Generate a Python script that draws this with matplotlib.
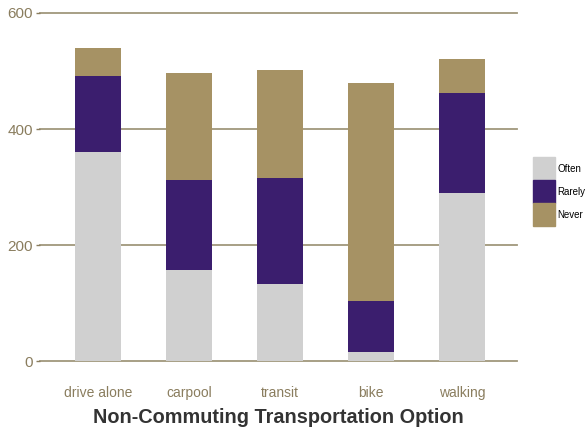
import matplotlib.pyplot as plt
from matplotlib.patches import Patch

plt.rcParams["font.family"] = ["Liberation Sans", "DejaVu Sans"]

options = ["drive alone", "carpool", "transit", "bike", "walking"]
often = [360, 157, 133, 16, 290]
rarely = [131, 155, 183, 87, 172]
never = [49, 185, 186, 376, 59]

c_often = "#d0d0d0"
c_rarely = "#3b1e6e"
c_never = "#a69264"
grid_col = "#a0977c"
tick_col = "#8a7d5e"

fig = plt.figure(figsize=(5.86, 4.32), dpi=100)
ax = fig.add_axes([0.068, 0.164, 0.814, 0.806])

x = list(range(len(options)))
for val in [0, 200, 400, 600]:
    ax.axhline(val, color=grid_col, lw=1.3, zorder=0, clip_on=False)

bot2 = [a + b for a, b in zip(often, rarely)]
ax.bar(x, often, width=0.5, color=c_often, zorder=2)
ax.bar(x, rarely, width=0.5, bottom=often, color=c_rarely, zorder=2)
ax.bar(x, never, width=0.5, bottom=bot2, color=c_never, zorder=2)

ax.set_xlim(-0.64, 4.6)
ax.set_ylim(0, 600)
ax.set_yticks([0, 200, 400, 600])
ax.set_xticks(x)
ax.set_xticklabels(options)
ax.tick_params(axis="y", colors=tick_col, labelsize=11, length=3, width=1, pad=2)
ax.tick_params(axis="x", colors=tick_col, labelsize=10, length=0, pad=18)
for s in ax.spines.values():
    s.set_visible(False)

ax.set_xlabel("Non-Commuting Transportation Option", fontsize=14.3,
              fontweight="bold", color="#333333", labelpad=6)

handles = [Patch(color=c_often, label="Often"),
           Patch(color=c_rarely, label="Rarely"),
           Patch(color=c_never, label="Never")]
fig.legend(handles=handles, loc="center left", bbox_to_anchor=(0.909, 0.556),
           frameon=False, fontsize=7, handlelength=2.27, handleheight=3.27,
           labelspacing=0, handletextpad=0.3, borderaxespad=0, borderpad=0)

fig.savefig("out.png", dpi=100)
